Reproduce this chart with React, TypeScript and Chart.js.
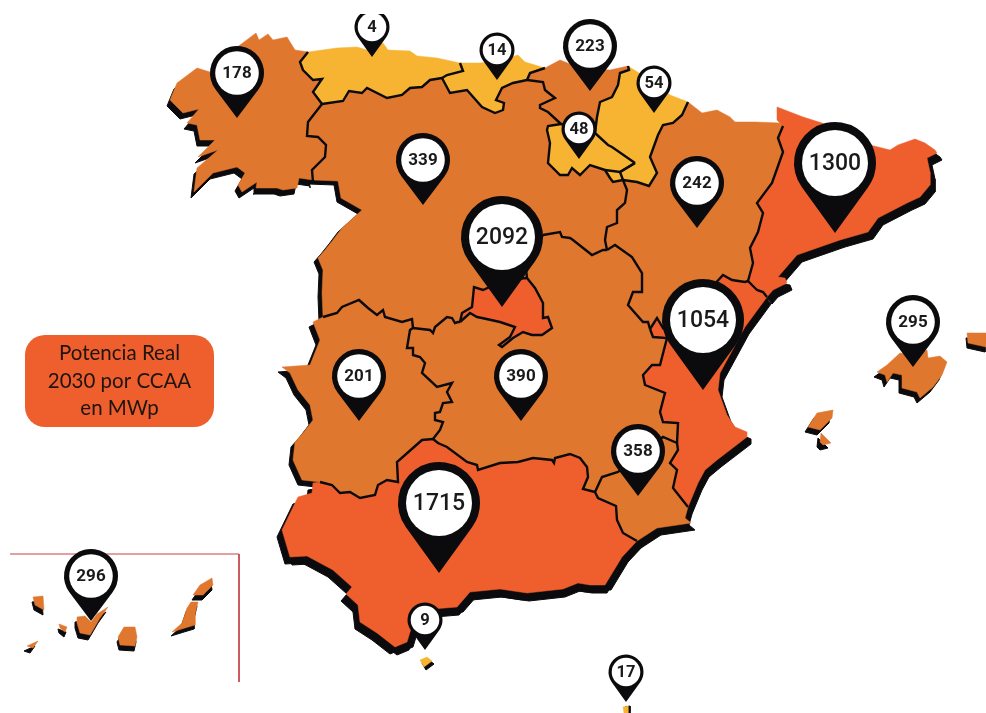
import React, { useEffect, useRef } from "react";
import { Chart, registerables } from "chart.js";

Chart.register(...registerables);

type P = [number, number];
const rev = (a: P[]): P[] => [...a].reverse();

const ORANGE = "#E0772F";
const RED = "#EF5F2E";
const YELLOW = "#F6B432";
const BLACK = "#0B0A0C";

// Coastlines
const coastGal: P[] = [[313,182],[313,180],[299,178],[297,188],[283,190],[277,188],[256,188],[257,182],[242,192],[238,185],[245,173],[237,167],[213,173],[194,192],[197,168],[218,150],[198,157],[215,140],[200,140],[197,125],[187,123],[199,109],[183,113],[170,100],[177,83],[197,68],[210,72],[225,55],[240,45],[256,33],[259,40],[268,34],[273,40],[287,37],[295,50],[308,52]];
const coastAst: P[] = [[308,52],[337,48],[357,47],[367,50],[383,43],[388,50],[410,51],[417,56],[437,58],[460,63]];
const coastCan: P[] = [[460,63],[480,63],[500,60],[518,55],[525,62],[545,68]];
const coastPv: P[] = [[545,68],[560,60],[580,68],[610,70],[628,66]];
const coastNav: P[] = [[628,66],[650,80],[670,95],[688,102]];
const coastAra: P[] = [[688,102],[702,113],[717,110],[730,117],[735,122],[755,122],[780,123],[783,126]];
const coastCat: P[] = [[783,126],[777,120],[777,107],[803,117],[822,123],[850,135],[870,145],[890,150],[898,145],[915,139],[925,143],[935,150],[937,153],[927,158],[930,172],[930,185],[920,197],[907,203],[878,218],[868,232],[840,240],[817,248],[797,255],[778,277],[785,278],[787,283],[773,290],[767,297]];
const coastVal: P[] = [[688,507],[698,483],[705,470],[717,460],[747,437],[747,432],[735,427],[727,415],[718,390],[720,373],[745,327],[767,297]];
const coastMur: P[] = [[688,507],[685,518],[691,523],[657,528],[637,541]];
const coastAnd: P[] = [[637,541],[622,557],[605,585],[590,585],[578,583],[563,589],[527,593],[500,589],[470,592],[457,607],[445,608],[420,610],[410,632],[407,642],[395,647],[377,633],[360,622],[358,605],[346,594],[352,587],[333,570],[307,556],[290,557],[282,530],[298,497],[312,493],[313,483],[320,482]];
const coastExt: P[] = [[320,482],[302,480],[293,460],[295,442],[303,433],[313,420],[310,405],[298,390],[290,373],[282,367],[310,365],[320,340],[313,322],[323,317]];
const coastCylW: P[] = [[323,317],[322,293],[323,270],[318,258],[325,250],[333,240],[342,228],[362,210],[341,198],[338,181],[313,180],[313,182]];

// Inner borders
const bGalAst: P[] = [[308,52],[300,62],[303,70],[313,80],[322,79],[313,92],[322,104]];
const bGalCyl: P[] = [[322,104],[308,122],[307,136],[318,137],[326,145],[325,157],[312,170],[313,182]];
const bAstCyl: P[] = [[322,104],[343,101],[349,91],[362,93],[367,88],[387,98],[402,95],[410,88],[422,87],[430,80],[442,78]];
const bAstCan: P[] = [[460,63],[463,71],[447,75],[442,78]];
const bCanCyl: P[] = [[442,78],[450,93],[467,90],[482,107],[495,113],[503,110],[504,103],[496,100],[502,88],[513,83],[527,80]];
const bCanPv: P[] = [[545,68],[530,73],[527,80]];
const bPvCyl: P[] = [[527,80],[543,82],[545,90],[555,98],[540,105],[540,108],[548,112],[561,124]];
const bPvNav: P[] = [[628,66],[629,70],[620,73],[618,85],[612,97],[600,102],[597,117],[595,133]];
const bPvRio: P[] = [[561,124],[595,133]];
const bRioNav: P[] = [[595,133],[608,145],[612,147],[635,163]];
const bRioLow: P[] = [[635,163],[620,172],[605,170]];
const bRioCyl: P[] = [[605,170],[590,165],[580,175],[572,168],[568,175],[560,175],[548,163],[550,143],[547,130],[548,126],[561,124]];
const bCylJ: P[] = [[605,170],[610,178],[613,182],[623,180]];
const bNavJ: P[] = [[623,180],[620,172],[635,163]];
const bNavAra: P[] = [[688,102],[682,115],[673,123],[663,125],[658,135],[650,157],[657,173],[649,186],[637,182],[623,180]];
const bCylAra: P[] = [[623,180],[627,190],[625,203],[617,210],[617,223],[607,227],[605,240],[607,250]];
const bCylClmE: P[] = [[607,250],[603,250],[592,255],[573,240],[570,238],[562,237],[560,232],[543,235]];
const bCylMadA: P[] = [[543,235],[525,260],[527,278]];
const bCylMadB: P[] = [[527,278],[505,280],[483,290],[474,287],[472,307],[462,313],[460,322]];
const bMadClm: P[] = [[527,278],[535,288],[543,303],[543,318],[548,317],[552,328],[542,335],[532,335],[523,332],[513,338],[502,347],[499,345],[510,337],[515,327],[500,322],[482,318],[477,317],[470,313],[460,322]];
const bCylClmW: P[] = [[460,322],[458,322],[455,323],[452,318],[447,317],[435,327],[433,333],[430,330],[413,328]];
const bCylExt: P[] = [[413,328],[412,319],[402,322],[385,317],[383,310],[377,315],[368,308],[359,300],[342,307],[337,313],[323,317]];
const bExtClm: P[] = [[413,328],[410,330],[407,348],[413,348],[413,355],[420,357],[425,363],[422,373],[437,387],[452,383],[447,392],[452,402],[443,403],[440,412],[435,413],[435,420],[443,422],[440,430],[433,439]];
const bExtAnd: P[] = [[433,439],[422,440],[397,462],[398,482],[387,480],[378,485],[375,495],[360,498],[350,492],[340,493],[332,485],[320,482]];
const bAndClm: P[] = [[433,439],[438,443],[447,447],[467,462],[477,465],[478,470],[500,463],[518,462],[533,458],[552,460],[554,463],[555,458],[570,454],[580,458],[587,467],[588,477],[583,489],[595,492]];
const bAndMur: P[] = [[595,492],[598,498],[616,506],[617,520],[623,533],[637,541]];
const bMurClm: P[] = [[595,492],[602,477],[618,472],[640,455],[663,437],[677,443]];
const bMurVal: P[] = [[677,443],[678,450],[670,463],[677,470],[673,488],[688,507]];
const bValClm: P[] = [[650,329],[653,337],[667,338],[660,365],[652,365],[643,375],[645,385],[665,393],[660,412],[663,422],[678,423],[677,443]];
const bAraClm: P[] = [[650,329],[648,322],[643,322],[628,305],[633,292],[642,292],[642,273],[632,257],[615,245],[607,250]];
const bAraVal: P[] = [[748,281],[745,282],[732,280],[723,275],[700,300],[663,328],[657,318],[650,329]];
const bValCat: P[] = [[767,297],[763,292],[757,290],[748,281]];
const bAraCat: P[] = [[783,126],[778,138],[783,152],[772,183],[757,203],[763,213],[758,232],[750,248],[753,263],[748,281]];

const borders: P[][] = [bGalAst,bGalCyl,bAstCyl,bAstCan,bCanCyl,bCanPv,bPvCyl,bPvNav,bPvRio,bRioNav,bRioLow,bRioCyl,bCylJ,bNavJ,bNavAra,bCylAra,bCylClmE,bCylMadA,bCylMadB,bMadClm,bCylClmW,bCylExt,bExtClm,bExtAnd,bAndClm,bAndMur,bMurClm,bMurVal,bValClm,bAraClm,bAraVal,bValCat,bAraCat];

// Regions
const galicia: P[] = [...coastGal, ...bGalAst, ...bGalCyl];
const asturias: P[] = [...coastAst, ...bAstCan, ...rev(bAstCyl), ...rev(bGalAst)];
const cantabria: P[] = [...coastCan, ...bCanPv, ...rev(bCanCyl), ...rev(bAstCan)];
const paisVasco: P[] = [...coastPv, ...bPvNav, ...rev(bPvRio), ...rev(bPvCyl), ...rev(bCanPv)];
const navarra: P[] = [...coastNav, ...bNavAra, ...bNavJ, ...rev(bRioNav), ...rev(bPvNav)];
const rioja: P[] = [...bPvRio, ...bRioNav, [620,172], [623,180], ...rev(bCylJ), ...bRioCyl];
const cyl: P[] = [...bAstCyl, ...bCanCyl, ...bPvCyl, ...rev(bRioCyl), ...bCylJ, ...bCylAra, ...bCylClmE, ...bCylMadA, ...bCylMadB, ...bCylClmW, ...bCylExt, ...coastCylW, ...rev(bGalCyl)];
const madrid: P[] = [...bCylMadB, ...rev(bMadClm)];
const clm: P[] = [...bCylClmE, ...bCylMadA, ...bMadClm, ...bCylClmW, ...bExtClm, ...bAndClm, ...bMurClm, ...rev(bValClm), ...bAraClm];
const extremadura: P[] = [...rev(bCylExt), ...bExtClm, ...bExtAnd, ...coastExt];
const andalucia: P[] = [...rev(bExtAnd), ...bAndClm, ...bAndMur, ...coastAnd];
const murcia: P[] = [...bMurClm, ...bMurVal, ...coastMur, ...rev(bAndMur)];
const valencia: P[] = [...bAraVal, ...bValClm, ...bMurVal, ...coastVal, ...bValCat];
const aragon: P[] = [...coastAra, ...bAraCat, ...bAraVal, ...bAraClm, ...rev(bCylAra), ...rev(bNavAra)];
const cataluna: P[] = [...coastCat, ...bValCat, ...rev(bAraCat)];

// Islands and cities
const mallorca: P[] = [[877,372],[887,365],[900,353],[915,355],[927,350],[928,358],[940,356],[947,362],[942,375],[933,387],[920,398],[917,392],[902,388],[902,375],[893,373],[887,382],[885,375]];
const menorca: P[] = [[967,333],[986,333],[986,347],[968,343]];
const ibiza: P[] = [[808,427],[817,413],[833,410],[832,418],[820,430]];
const formentera: P[] = [[821,433],[825,437],[831,443],[823,445],[820,442]];
const laPalma: P[] = [[33,597],[43,596],[44,610],[35,605]];
const gomera: P[] = [[59,624],[67,627],[65,632],[60,628]];
const hierro: P[] = [[27,646],[38,641],[33,648]];
const tenerife: P[] = [[77,617],[85,616],[91,622],[97,614],[108,607],[100,618],[93,630],[90,635],[80,633],[77,623]];
const granCanaria: P[] = [[124,627],[135,627],[137,637],[135,646],[120,645],[118,637]];
const fuerteventura: P[] = [[191,602],[198,602],[195,615],[195,625],[185,628],[172,632],[182,623],[187,608]];
const lanzarote: P[] = [[212,578],[213,585],[203,595],[193,595],[200,585]];
const ceuta: P[] = [[420,660],[427,657],[432,661],[424,667]];
const melilla: P[] = [[623,707],[628,706],[628,713],[624,713]];

const frameLine: P[] = [[10,554],[239,554],[239,682]];

// Pins
const pinValues = [4,178,14,223,54,48,339,242,2092,1300,1054,201,390,295,358,1715,9,296,17];
const pinX = [372,237,497,590,654,579,423,697,502,835,703,359,521,913,638,439,425,91,626];
const pinY = [27,73,50,46,83,129,160,183,237,163,320,376,376,322,451,503,620,576,672];

const boxLines = ["Potencia Real","2030 por CCAA","en MWp"];

const regionFills: [P[], string, P[]][] = [
  [galicia, ORANGE, [[-3,6]]],
  [asturias, YELLOW, []],
  [cantabria, YELLOW, []],
  [paisVasco, ORANGE, []],
  [navarra, YELLOW, []],
  [rioja, YELLOW, []],
  [cyl, ORANGE, [[-4,4]]],
  [madrid, RED, []],
  [clm, ORANGE, []],
  [extremadura, ORANGE, [[-4,5]]],
  [andalucia, RED, [[-5,7],[2,8],[6,5]]],
  [murcia, ORANGE, [[4,7]]],
  [valencia, RED, [[4,7]]],
  [aragon, ORANGE, []],
  [cataluna, RED, [[5,7]]],
  [mallorca, ORANGE, [[-3,5]]],
  [menorca, ORANGE, [[-1,5]]],
  [ibiza, ORANGE, [[-3,5]]],
  [formentera, ORANGE, [[-3,5]]],
  [laPalma, ORANGE, [[-1,5]]],
  [gomera, ORANGE, [[-1,5]]],
  [hierro, ORANGE, [[-3,5]]],
  [tenerife, ORANGE, [[-2,5]]],
  [granCanaria, ORANGE, [[-1,5]]],
  [fuerteventura, ORANGE, [[-1,4]]],
  [lanzarote, ORANGE, [[-1,5]]],
  [ceuta, YELLOW, [[2,3]]],
  [melilla, YELLOW, [[2,0]]],
];

const toXY = (p: P[]) => p.map(([x, y]) => ({ x, y }));

const tier = (v: number) =>
  v < 100 ? { r: 17.5, inner: 14.3, tip: 30, font: 16.5, weight: 700 } :
  v < 1000 ? { r: 27, inner: 21.8, tip: 45, font: 17, weight: 700 } :
  { r: 41, inner: 33, tip: 70, font: 23, weight: 500 };

const overlayPlugin = {
  id: "overlay",
  afterDatasetsDraw(chart: any) {
    const { ctx, scales } = chart;
    const sx = scales.x, sy = scales.y;
    ctx.save();
    // Legend box
    const bx = sx.getPixelForValue(25), by = sy.getPixelForValue(335);
    ctx.beginPath();
    ctx.roundRect(bx, by, 189, 92, 20);
    ctx.fillStyle = RED;
    ctx.fill();
    ctx.fillStyle = "#1E1410";
    ctx.font = '400 20.5px Lato, sans-serif';
    ctx.textAlign = "center";
    ctx.textBaseline = "alphabetic";
    boxLines.forEach((t, i) => ctx.fillText(t, bx + 94.5, by + 25 + i * 27.5));
    // Pins
    pinValues.forEach((v, i) => {
      const t = tier(v);
      const cx = sx.getPixelForValue(pinX[i]);
      const cy = sy.getPixelForValue(pinY[i]);
      ctx.save();
      if (cy - t.r < 14 && v === 4) {
        ctx.beginPath();
        ctx.rect(0, 14, chart.width, chart.height);
        ctx.clip();
      }
      const a = Math.acos(t.r / t.tip);
      ctx.beginPath();
      ctx.arc(cx, cy, t.r, Math.PI / 2 + a, Math.PI / 2 - a);
      ctx.lineTo(cx, cy + t.tip);
      ctx.closePath();
      ctx.fillStyle = BLACK;
      ctx.fill();
      ctx.beginPath();
      ctx.arc(cx, cy, t.inner, 0, Math.PI * 2);
      ctx.fillStyle = "#FFFFFF";
      ctx.fill();
      ctx.fillStyle = "#1A1A1C";
      ctx.font = `${t.weight} ${t.font}px Roboto, sans-serif`;
      ctx.textAlign = "center";
      ctx.textBaseline = "middle";
      ctx.fillText(String(v), cx, cy + 1);
      ctx.restore();
    });
    ctx.restore();
  },
};

export default function App() {
  const ref = useRef<HTMLCanvasElement>(null);
  useEffect(() => {
    document.body.style.margin = "0";
    const base = { showLine: true, pointRadius: 0, pointHoverRadius: 0, tension: 0 };
    const datasets: any[] = [];
    regionFills.forEach(([poly, , offs]) =>
      offs.forEach(([dx, dy]) =>
        datasets.push({
          ...base, order: 3,
          data: toXY([...poly, poly[0]].map(([x, y]) => [x + dx, y + dy] as P)),
          fill: "shape", backgroundColor: BLACK, borderColor: BLACK, borderWidth: 1,
        })
      )
    );
    regionFills.forEach(([poly, color]) =>
      datasets.push({
        ...base, order: 2,
        data: toXY([...poly, poly[0]]),
        fill: "shape", backgroundColor: color, borderColor: color, borderWidth: 0.5,
      })
    );
    borders.forEach((b) =>
      datasets.push({
        ...base, order: 1, data: toXY(b), fill: false,
        borderColor: BLACK, borderWidth: 2.4, borderJoinStyle: "miter",
      })
    );
    datasets.push({
      ...base, order: 1, data: toXY(frameLine), fill: false,
      borderColor: "#C8434B", borderWidth: 1,
    });
    const chart = new Chart(ref.current!, {
      type: "scatter",
      data: { datasets },
      options: {
        responsive: false,
        animation: false,
        layout: { padding: 0 },
        events: [],
        plugins: { legend: { display: false }, tooltip: { enabled: false }, title: { display: false } },
        scales: {
          x: { type: "linear", min: 0, max: 986, display: false },
          y: { type: "linear", min: 0, max: 713, reverse: true, display: false },
        },
      },
      plugins: [overlayPlugin],
    } as any);
    return () => chart.destroy();
  }, []);
  return (
    <div style={{ position: "absolute", left: 0, top: 0, width: 986, height: 713, overflow: "hidden", background: "#fff" }}>
      <canvas ref={ref} width={986} height={713} style={{ display: "block" }} />
    </div>
  );
}
